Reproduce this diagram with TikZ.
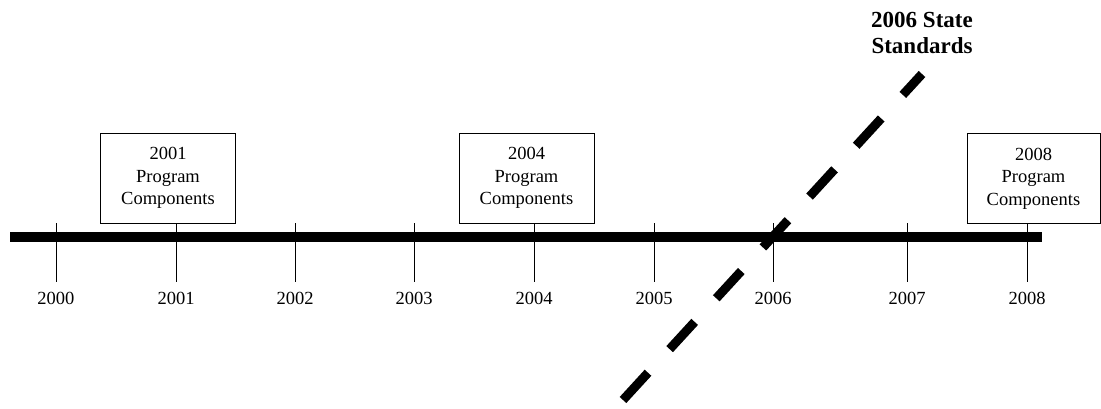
\documentclass[tikz,border=0pt]{standalone}
\usepackage{fontspec}
\setmainfont{Liberation Serif}
\begin{document}
\begin{tikzpicture}[x=1pt,y=-1pt,
  yearlabel/.style={font=\fontsize{18.5}{20}\selectfont, inner sep=0pt, anchor=center},
  progbox/.style={draw, line width=0.8pt, align=center, inner sep=0pt,
    minimum width=135, minimum height=90, font=\fontsize{18.5}{22.5}\selectfont},
  tick/.style={line width=1pt},
  bar/.style={line width=10pt},
  stdline/.style={line width=9pt, dash pattern=on 37pt off 32pt}]
\useasboundingbox (0,0) rectangle (1101,409);
% bar
\coordinate (barL) at (10,237);
\coordinate (barR) at (1042,237);
\draw[bar] (barL) -- (barR);
% ticks and year labels
\foreach \yr/\x in {2000/56,2001/176,2002/295,2003/414,2004/534,2005/654,2006/773,2007/907,2008/1027}{
  \coordinate (t\yr) at (\x,223);
  \coordinate (b\yr) at (\x,282);
  \draw[tick] (t\yr) -- (b\yr);
  \node[yearlabel] (y\yr) at (\x,298) {\yr};
}
% boxes
\node[progbox] (p2001) at (168,178) {2001\\Program\\Components};
\node[progbox] (p2004) at (526.5,178) {2004\\Program\\Components};
\node[progbox, minimum width=133] (p2008) at (1033.5,178.5) {2008\\Program\\Components};
% standards line
\coordinate (sA) at (623,400);
\coordinate (sB) at (922,74);
\draw[stdline] (sA) -- (sB);
\node[font=\fontsize{23}{26}\selectfont\bfseries, align=center, inner sep=0pt] (std) at (922,33) {2006 State\\Standards};
\end{tikzpicture}
\end{document}
